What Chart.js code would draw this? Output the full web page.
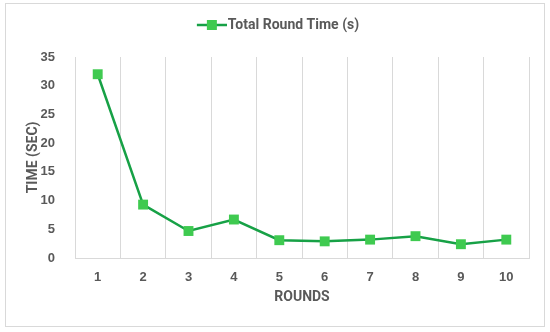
<!DOCTYPE html>
<html>
<head>
<meta charset="utf-8">
<script src="https://cdn.jsdelivr.net/npm/chart.js@4"></script>
<style>
  html, body { margin: 0; padding: 0; background: #fff; }
  #wrap { width: 550px; height: 332px; position: relative; }
</style>
</head>
<body>
<div id="wrap"><canvas id="chart-slot" width="550" height="332"></canvas></div>
<script>
const rounds = ['1', '2', '3', '4', '5', '6', '7', '8', '9', '10'];
const roundTime = [32, 9.3, 4.7, 6.7, 3.1, 2.9, 3.2, 3.8, 2.4, 3.2];
const yTicks = [0, 5, 10, 15, 20, 25, 30, 35];

const lineColor = '#17a146';
const markColor = '#3fca50';
const textColor = '#595959';
const narrow = "'Liberation Sans Narrow', 'Roboto', sans-serif";

// legend symbol: short line with a square in the middle
// (drawn shifted right so the text sits close to it, like Excel)
const legendIcon = document.createElement('canvas');
legendIcon.width = 42;
legendIcon.height = 12;
const ic = legendIcon.getContext('2d');
ic.strokeStyle = lineColor;
ic.lineWidth = 2.5;
ic.beginPath();
ic.moveTo(12, 6);
ic.lineTo(42, 6);
ic.stroke();
ic.fillStyle = markColor;
ic.fillRect(22, 1, 10, 10);

const frame = {
  id: 'frame',
  beforeDraw(chart) {
    const c = chart.ctx;
    c.save();
    c.fillStyle = '#fff';
    c.fillRect(0, 0, chart.width, chart.height);
    c.strokeStyle = '#d9d9d9';
    c.lineWidth = 1;
    c.strokeRect(5.5, 3.5, 539, 323);
    c.restore();
  }
};

const legendGap = {
  id: 'legendGap',
  beforeInit(chart) {
    const fit = chart.legend.fit;
    chart.legend.fit = function () {
      fit.bind(chart.legend)();
      this.height += 15;
    };
  }
};

new Chart(document.getElementById('chart-slot'), {
  type: 'line',
  data: {
    labels: rounds,
    datasets: [{
      label: 'Total Round Time (s)',
      data: roundTime,
      borderColor: lineColor,
      borderWidth: 2.5,
      tension: 0,
      pointStyle: 'rect',
      pointRadius: 7,
      pointHoverRadius: 7,
      pointBackgroundColor: markColor,
      pointBorderWidth: 0
    }]
  },
  options: {
    responsive: false,
    animation: false,
    layout: { padding: { top: 8, left: 21, right: 21, bottom: 0 } },
    plugins: {
      tooltip: { enabled: false },
      legend: {
        position: 'top',
        labels: {
          usePointStyle: true,
          pointStyle: legendIcon,
          pointStyleWidth: 30,
          padding: 10,
          color: textColor,
          font: { family: narrow, size: 14, weight: 'bold' },
          generateLabels(chart) {
            const items = Chart.defaults.plugins.legend.labels.generateLabels(chart);
            items.forEach(it => { it.pointStyle = legendIcon; });
            return items;
          }
        }
      }
    },
    scales: {
      x: {
        offset: true,
        grid: { display: true, offset: true, drawTicks: false, color: '#d9d9d9', lineWidth: 1 },
        border: { display: true, color: '#d9d9d9' },
        ticks: { color: textColor, padding: 12, font: { family: "'Liberation Sans', Arial, sans-serif", size: 13, weight: 'bold' } },
        title: {
          display: true,
          text: 'ROUNDS',
          color: textColor,
          font: { family: narrow, size: 14, weight: 'bold' },
          padding: { top: 0, bottom: 26 }
        },
        afterFit(scale) { scale.height = 74; }
      },
      y: {
        min: 0,
        max: 35,
        afterBuildTicks(scale) { scale.ticks = yTicks.map(v => ({ value: v })); },
        grid: { display: false },
        border: { display: true, color: '#d9d9d9' },
        ticks: { color: textColor, padding: 12, font: { family: "'Liberation Sans', Arial, sans-serif", size: 13, weight: 'bold' } },
        title: {
          display: true,
          text: 'TIME (SEC)',
          color: textColor,
          font: { family: narrow, size: 14, weight: 'bold' },
          padding: { top: 4, bottom: 0 }
        },
        afterFit(scale) { scale.width = 54; }
      }
    }
  },
  plugins: [frame, legendGap]
});
</script>
</body>
</html>
